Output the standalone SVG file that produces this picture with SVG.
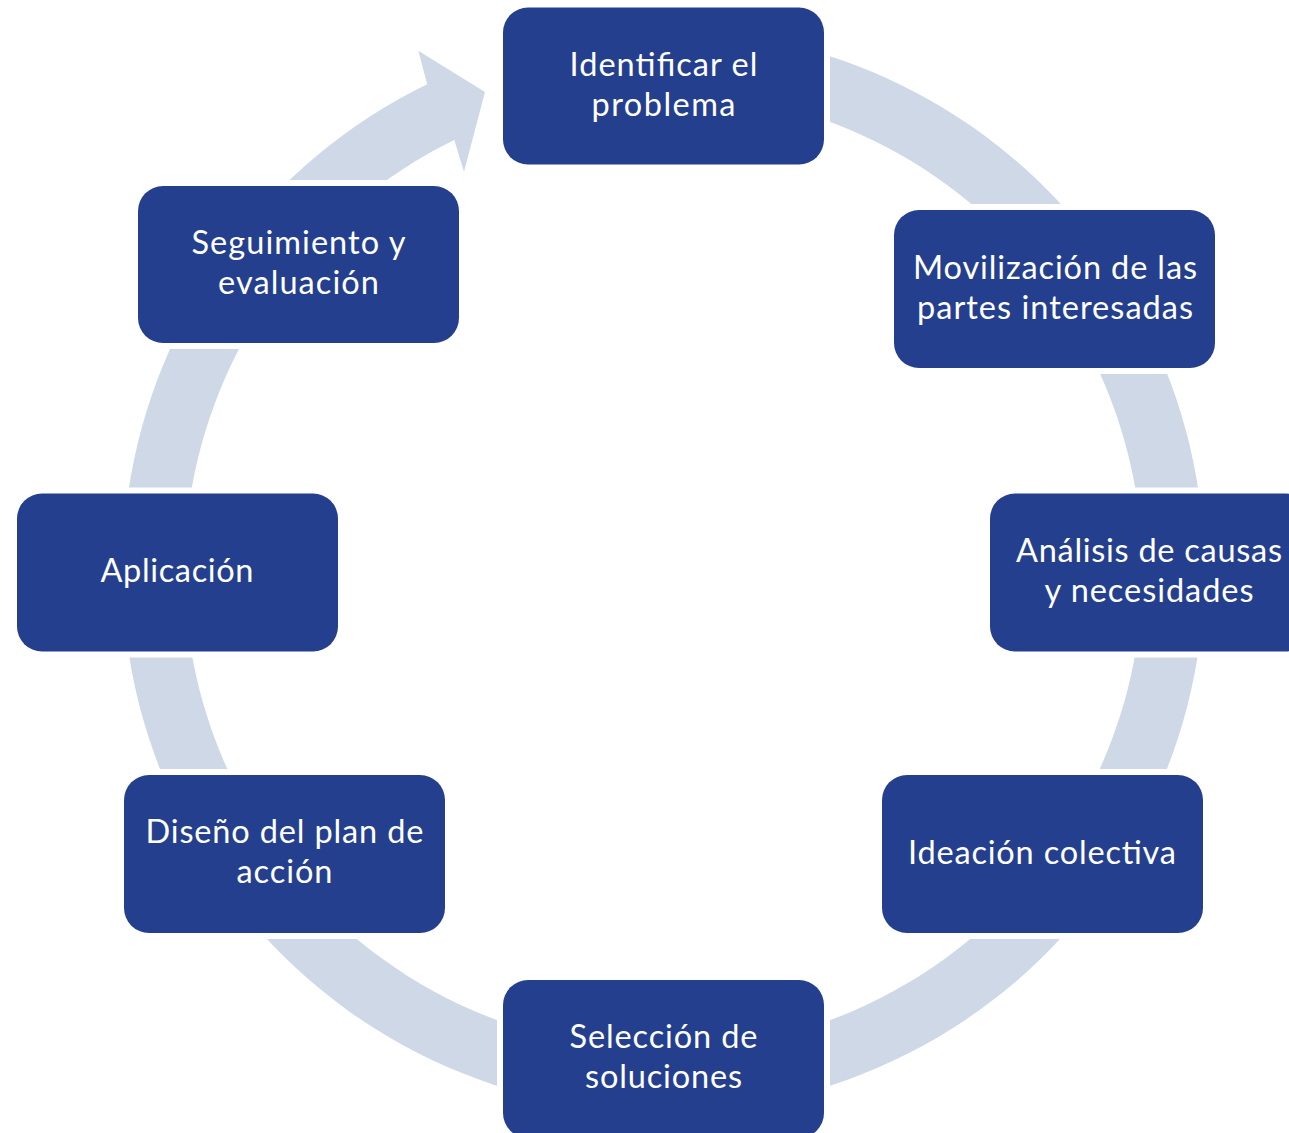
<svg xmlns="http://www.w3.org/2000/svg" width="1289" height="1133" viewBox="0 0 1289 1133">
  <style>
    .pad { fill: #ffffff; }
    .box { fill: #253F8F; }
    .lbl { fill: #ffffff; font-family: Lato, "Open Sans", "Liberation Sans", sans-serif; font-size: 32.5px; text-anchor: middle; }
    .ring { fill: #CFD8E7; }
  </style>
  <rect width="1289" height="1133" fill="#ffffff"/>
  <g id="connectors">
    <path class="ring" d="M 663.5 30 A 541 541 0 1 1 427.2 84.3 L 418.3 50.7 L 485 92 L 464 171.7 L 454.3 140.1 A 479 479 0 1 0 663.5 92 Z"/>
  </g>
  <g id="node-identificar">
    <rect class="pad" x="497" y="1.5" width="333" height="169" rx="31"/>
    <rect class="box" x="503" y="7.5" width="321" height="157" rx="25"/>
    <text class="lbl" x="663.5" y="76" textLength="188" lengthAdjust="spacing">Identificar el</text>
    <text class="lbl" x="663.5" y="116" textLength="144" lengthAdjust="spacing">problema</text>
  </g>
  <g id="node-movilizacion">
    <rect class="pad" x="888" y="204" width="333" height="170" rx="31"/>
    <rect class="box" x="894" y="210" width="321" height="158" rx="25"/>
    <text class="lbl" x="1055" y="279" textLength="284" lengthAdjust="spacing">Movilización de las</text>
    <text class="lbl" x="1055" y="319" textLength="276" lengthAdjust="spacing">partes interesadas</text>
  </g>
  <g id="node-analisis">
    <rect class="pad" x="984" y="487.5" width="333" height="170" rx="31"/>
    <rect class="box" x="990" y="493.5" width="321" height="158" rx="25"/>
    <text class="lbl" x="1149" y="562" textLength="266" lengthAdjust="spacing">Análisis de causas</text>
    <text class="lbl" x="1149" y="602" textLength="209" lengthAdjust="spacing">y necesidades</text>
  </g>
  <g id="node-ideacion">
    <rect class="pad" x="876" y="769" width="333" height="170" rx="31"/>
    <rect class="box" x="882" y="775" width="321" height="158" rx="25"/>
    <text class="lbl" x="1042" y="864" textLength="268" lengthAdjust="spacing">Ideación colectiva</text>
  </g>
  <g id="node-seleccion">
    <rect class="pad" x="497" y="974" width="333" height="170" rx="31"/>
    <rect class="box" x="503" y="980" width="321" height="158" rx="25"/>
    <text class="lbl" x="663.5" y="1048" textLength="188" lengthAdjust="spacing">Selección de</text>
    <text class="lbl" x="663.5" y="1088" textLength="157" lengthAdjust="spacing">soluciones</text>
  </g>
  <g id="node-diseno">
    <rect class="pad" x="118" y="769" width="333" height="170" rx="31"/>
    <rect class="box" x="124" y="775" width="321" height="158" rx="25"/>
    <text class="lbl" x="284.5" y="843" textLength="278" lengthAdjust="spacing">Diseño del plan de</text>
    <text class="lbl" x="284.5" y="883" textLength="96" lengthAdjust="spacing">acción</text>
  </g>
  <g id="node-aplicacion">
    <rect class="pad" x="11" y="487.5" width="333" height="170" rx="31"/>
    <rect class="box" x="17" y="493.5" width="321" height="158" rx="25"/>
    <text class="lbl" x="177" y="582" textLength="153" lengthAdjust="spacing">Aplicación</text>
  </g>
  <g id="node-seguimiento">
    <rect class="pad" x="132" y="180" width="333" height="169" rx="31"/>
    <rect class="box" x="138" y="186" width="321" height="157" rx="25"/>
    <text class="lbl" x="298.5" y="254" textLength="214" lengthAdjust="spacing">Seguimiento y</text>
    <text class="lbl" x="298.5" y="294" textLength="161" lengthAdjust="spacing">evaluación</text>
  </g>
</svg>
